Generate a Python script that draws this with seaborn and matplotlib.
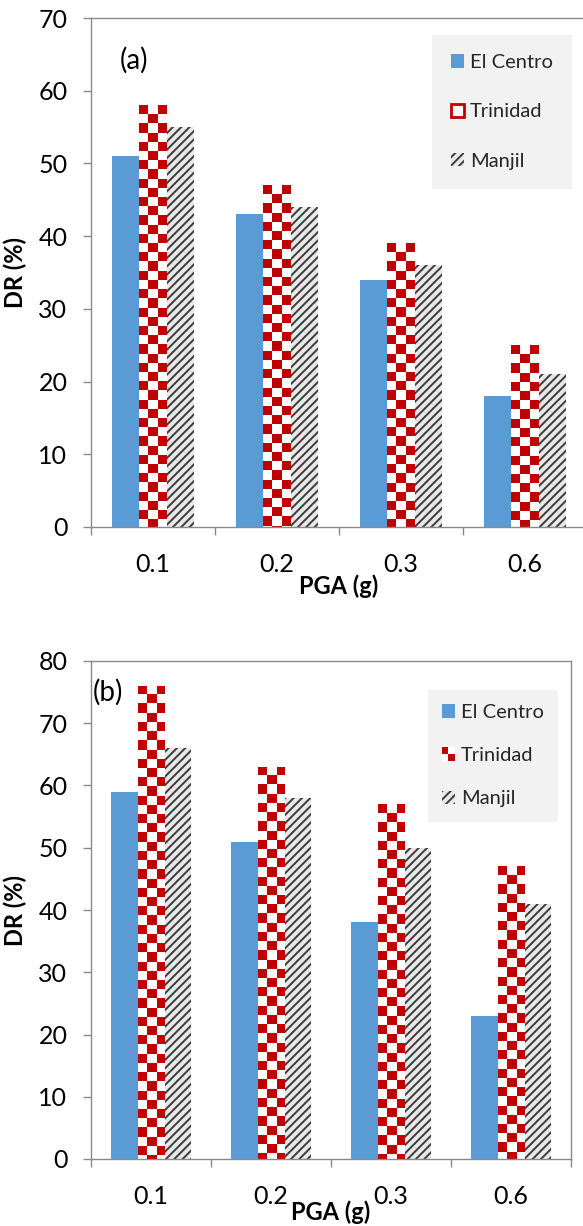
import numpy as np
import pandas as pd
import matplotlib
matplotlib.use('Agg')
import matplotlib.pyplot as plt
import seaborn as sns
from matplotlib.patches import Patch, Rectangle
from matplotlib.legend_handler import HandlerBase

# ---------------- data ----------------
pga = ['0.1', '0.2', '0.3', '0.6']
records = ['El Centro', 'Trinidad', 'Manjil']
dr_a_elcentro = [51, 43, 34, 18]
dr_a_trinidad = [58, 47, 39, 25]
dr_a_manjil = [55, 44, 36, 21]
dr_b_elcentro = [59, 51, 38, 23]
dr_b_trinidad = [76, 63, 57, 47]
dr_b_manjil = [66, 58, 50, 41]
yticks_a = [0, 10, 20, 30, 40, 50, 60, 70]
yticks_b = [0, 10, 20, 30, 40, 50, 60, 70, 80]

sns.set_theme(style='white')
plt.rcParams['font.family'] = ['Lato', 'DejaVu Sans']
plt.rcParams['hatch.linewidth'] = 1.4

BLUE = '#5B9BD5'
RED = '#C00000'
GREY_FACE = '#e8e8e8'
HATCH = '#3c3c3c'
SPINE = '#8a8a8a'
LEG_BG = '#f2f2f2'

W, H = 583, 1226
fig = plt.figure(figsize=(W / 100, H / 100), dpi=100)


def axes_px(l, t, r, b):
    return fig.add_axes([l / W, 1 - b / H, (r - l) / W, (b - t) / H])


def make_df(e, t, m):
    return pd.DataFrame({'PGA': pga * 3,
                         'Record': np.repeat(records, len(pga)),
                         'DR': list(e) + list(t) + list(m)})


class CheckerHandler(HandlerBase):
    def create_artists(self, legend, orig_handle, xdescent, ydescent,
                       width, height, fontsize, trans):
        n = 2
        cw, ch = width / n, height / n
        arts = []
        for i in range(n):
            for j in range(n):
                c = RED if (i + j) % 2 == 1 else 'white'
                arts.append(Rectangle((-xdescent + i * cw, -ydescent + j * ch), cw, ch,
                                      facecolor=c, edgecolor='none', transform=trans))
        return arts


def draw_panel(ax, e, t, m, ymax, yticks, letter, letter_xy, leg_anchor, leg_kw, xlab_y, ylab_x, checker_legend):
    df = make_df(e, t, m)
    sns.barplot(data=df, x='PGA', y='DR', hue='Record', hue_order=records,
                palette=[BLUE, 'white', GREY_FACE], width=0.66, saturation=1,
                linewidth=0, legend=False, ax=ax, err_kws={'linewidth': 0})
    ax.set_xlim(-0.5, len(pga) - 0.5)
    ax.set_ylim(0, ymax)
    ax.set_yticks(yticks)
    ax.set_yticklabels([str(v) for v in yticks])

    # Trinidad: checkerboard fill
    fig.canvas.draw()
    p0 = ax.transData.transform((0, 0))
    p1 = ax.transData.transform((1, 1))
    sx, sy = p1[0] - p0[0], p1[1] - p0[1]
    cell = 9.2
    for patch in ax.containers[1]:
        x0, w, h = patch.get_x(), patch.get_width(), patch.get_height()
        ncol = int(np.ceil(w * sx / cell)) + 1
        nrow = int(np.ceil(h * sy / cell)) + 1
        ii, jj = np.indices((nrow, ncol))
        mask = (ii + jj) % 2 == 0
        img = np.ones((nrow, ncol, 3))
        img[mask] = [0xC0 / 255, 0, 0]
        top = h
        bottom = h - nrow * cell / sy
        im = ax.imshow(img, extent=(x0, x0 + ncol * cell / sx, bottom, top),
                       origin='upper', aspect='auto', interpolation='nearest', zorder=patch.get_zorder() + 0.1)
        im.set_clip_path(patch)
    # Manjil: diagonal stripes
    for patch in ax.containers[2]:
        patch.set_hatch('////')
        patch.set_edgecolor(HATCH)
        patch.set_linewidth(0)
    ax.set_xlim(-0.5, len(pga) - 0.5)
    ax.set_ylim(0, ymax)

    for s in ax.spines.values():
        s.set_color(SPINE)
        s.set_linewidth(1.0)
    ax.tick_params(axis='y', which='major', direction='out', length=6, width=1.0,
                   color=SPINE, pad=11, labelsize=18, left=True, labelcolor='black')
    ax.set_xticks(range(len(pga)))
    ax.set_xticklabels(pga)
    ax.tick_params(axis='x', which='major', length=0, pad=19, labelsize=18, labelcolor='black')
    ax.set_xticks(np.arange(-0.5, len(pga), 1.0), minor=True)
    ax.tick_params(axis='x', which='minor', direction='out', length=6, width=1.0,
                   color=SPINE, bottom=True)

    ax.set_xlabel('PGA (g)', fontsize=17, fontweight='bold', color='black')
    ax.xaxis.label.set_va('center')
    ax.xaxis.set_label_coords(0.5, xlab_y)
    ax.set_ylabel('DR (%)', fontsize=17, fontweight='bold', color='black')
    ax.yaxis.label.set_va('center')
    ax.yaxis.set_label_coords(ylab_x, 0.5)

    ax.text(letter_xy[0], letter_xy[1], letter, fontsize=20, ha='left', va='center',
            color='black')

    h_blue = Patch(facecolor=BLUE, edgecolor='none')
    h_man = Patch(facecolor=GREY_FACE, edgecolor=HATCH, hatch='////', linewidth=0)
    if checker_legend:
        h_tri = Patch(facecolor='white', edgecolor='none')
        hmap = {h_tri: CheckerHandler()}
    else:
        h_tri = Patch(facecolor='white', edgecolor=RED, linewidth=2.0)
        hmap = {}
    leg = ax.legend([h_blue, h_tri, h_man], records, loc='upper right',
                    bbox_to_anchor=(leg_anchor[0] / W, 1 - leg_anchor[1] / H),
                    bbox_transform=fig.transFigure, borderaxespad=0,
                    frameon=True, fancybox=False, facecolor=LEG_BG, edgecolor='none',
                    framealpha=1, fontsize=14.5, handlelength=0.65, handleheight=0.65,
                    handletextpad=0.3, handler_map=hmap, **leg_kw)
    leg.get_frame().set_linewidth(0)


ax1 = axes_px(91, 18, 587, 527)
ax2 = axes_px(91, 661, 571, 1159)

draw_panel(ax1, dr_a_elcentro, dr_a_trinidad, dr_a_manjil, 70, yticks_a, '(a)',
           (-0.27, 64.2), (572, 35), dict(labelspacing=1.6, borderpad=0.95),
           -0.116, -0.153, False)
draw_panel(ax2, dr_b_elcentro, dr_b_trinidad, dr_b_manjil, 80, yticks_b, '(b)',
           (-0.485, 75.0), (558, 690), dict(labelspacing=1.3, borderpad=0.7),
           -0.106, -0.158, True)

fig.savefig('out.png', dpi=100, facecolor='white')
